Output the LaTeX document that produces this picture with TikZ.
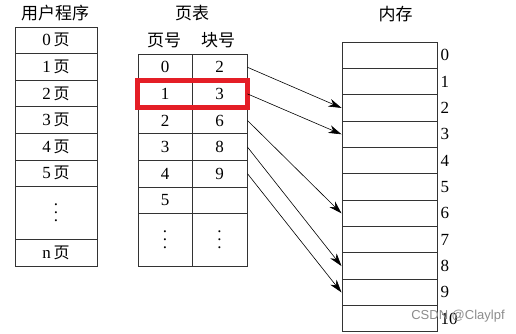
\documentclass[tikz,border=0pt]{standalone}
\usepackage{fontspec}
\setmainfont{Liberation Serif}
\newfontfamily\cjk{Noto Sans CJK SC}
\newfontfamily\wmfont{Liberation Sans}
\usetikzlibrary{positioning,fit,arrows.meta}
\definecolor{hlred}{RGB}{228,30,38}
\newcommand\colondots{\vbox{\baselineskip=8pt\lineskiplimit=-10pt\hbox{.}\hbox{.}\hbox{.}}}

\tikzset{
  cell/.style={draw=black!80, line width=1pt, inner sep=0pt, font=\fontsize{17}{19}\selectfont},
  title/.style={font=\cjk\fontsize{17}{19}\selectfont},
  redbox/.style={draw=hlred, line width=5pt, inner sep=0pt},
  maparrow/.style={-{Stealth[length=13pt,width=8pt,inset=4pt]}, line width=0.6pt}
}

\begin{document}
\begin{tikzpicture}[x=1pt,y=-1pt]
\useasboundingbox (0,0) rectangle (516,333);

% user program
\node[title] (utitle) at (55,13.5) {用户程序};
\foreach \i in {0,...,5}
  \node[cell, minimum width=82pt, minimum height=26.6pt] (u\i) at (56,{40.3+26.6*\i}) {\i\,{\cjk\fontsize{16}{18}\selectfont 页}};
\node[cell, minimum width=82pt, minimum height=53.2pt] (u6) at (56,213.2) {\colondots};
\node[cell, minimum width=82pt, minimum height=26.6pt] (u7) at (56,253.1) {n\,{\cjk\fontsize{16}{18}\selectfont 页}};

% page table
\node[title] (ptitle) at (192,13.5) {页表};
\node[title] (phead1) at (164,40) {页号};
\node[title] (phead2) at (218,40) {块号};
\foreach \i/\b in {0/2,1/3,2/6,3/8,4/9,5/{}} {
  \node[cell, minimum width=54pt, minimum height=26.6pt] (pa\i) at (165,{67.3+26.6*\i}) {\i};
  \node[cell, minimum width=55pt, minimum height=26.6pt] (pb\i) at (219.5,{67.3+26.6*\i}) {\b};
}
\node[cell, minimum width=54pt, minimum height=53.2pt] (pa6) at (165,240.2) {\colondots};
\node[cell, minimum width=55pt, minimum height=53.2pt] (pb6) at (219.5,240.2) {\colondots};
\node[redbox, fit=(pa1)(pb1)] (hl) {};

% memory
\node[title] (mtitle) at (395.5,14) {内存};
\foreach \i in {0,...,10} {
  \node[cell, minimum width=95pt, minimum height=26.36pt] (m\i) at (389.5,{55.2+26.36*\i}) {};
  \node[font=\fontsize{17}{19}\selectfont, anchor=west, inner sep=3pt] (ml\i) at (m\i.east) {\i};
}

% mapping
\foreach \s/\t in {0/2,1/3,2/6,3/8,4/9}
  \draw[maparrow] (pb\s.east) -- (m\t.west);

\node[text=black!45, font=\wmfont\fontsize{13}{15}\selectfont] (wm) at (458,316) {CSDN @Claylpf};
\end{tikzpicture}
\end{document}
